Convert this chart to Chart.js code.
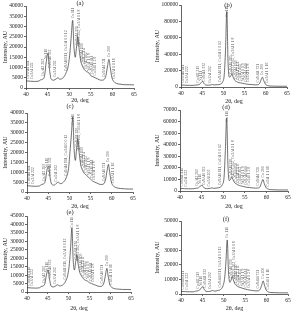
<!DOCTYPE html>
<html>
<head>
<meta charset="utf-8">
<script src="https://cdn.jsdelivr.net/npm/chart.js@4.4.0/dist/chart.umd.min.js"></script>
<style>
html, body { margin: 0; padding: 0; background: #fff; }
body { width: 293px; height: 312px; position: relative; overflow: hidden; }
canvas { position: absolute; }
</style>
</head>
<body>
<script>
// 2theta sample positions, shared by all six patterns
var twoTheta = [40, 41, 42, 43, 43.4, 43.8, 44.3, 44.7, 45.1, 45.4, 45.8, 46.4, 47, 47.4, 47.8, 48.6, 49.3, 49.8, 50.2, 50.5,
	50.8, 51.1, 51.4, 51.7, 52.0, 52.3, 52.7, 53.1, 53.5, 54, 54.5, 55, 55.5, 56, 56.5, 57, 57.5, 58, 58.5, 58.9,
	59.2, 59.5, 59.9, 60.4, 61, 62, 63, 64, 65];

var intensityA = [3500, 3300, 3200, 3400, 4000, 4200, 6000, 13000, 17000, 10000, 4500, 3800, 4500, 5000, 4300, 5000, 7500, 11000, 18000, 26000,
	33000, 20000, 15000, 20000, 25000, 19000, 13000, 10500, 9000, 8000, 7500, 6000, 5500, 5000, 4500, 4000, 3800, 4000, 6000, 11000,
	14000, 10000, 5000, 3000, 2200, 1800, 1600, 1600, 1500];
var intensityB = [2500, 2200, 2000, 2000, 2300, 2500, 3000, 5000, 7000, 4500, 2500, 2200, 2500, 3000, 2500, 2800, 3500, 6000, 15000, 45000,
	92000, 30000, 12000, 13000, 16000, 12000, 8000, 6500, 5500, 5000, 4500, 4000, 3500, 3200, 3000, 2800, 2600, 2700, 4000, 9000,
	12000, 8000, 3500, 1800, 1200, 1000, 900, 900, 900];
var intensityC = [3200, 3000, 2900, 3100, 3800, 4000, 5500, 11000, 13000, 8000, 4000, 3500, 4500, 5000, 4200, 5000, 7500, 12000, 22000, 30000,
	38000, 22000, 16000, 22000, 27000, 20000, 13500, 11000, 9500, 8500, 7500, 6500, 5500, 5000, 4500, 4000, 3800, 4000, 6000, 11000,
	14000, 10000, 5000, 3000, 2200, 1800, 1600, 1500, 1500];
var intensityD = [2200, 2000, 1900, 1900, 2200, 2400, 2800, 4200, 5000, 3500, 2200, 2000, 2300, 2700, 2300, 2600, 3300, 5500, 12000, 35000,
	63000, 22000, 9000, 10000, 12000, 9500, 7000, 6000, 5000, 4500, 4000, 3600, 3200, 3000, 2800, 2600, 2500, 2600, 3500, 7500,
	10000, 6500, 3000, 1700, 1200, 1000, 900, 900, 900];
var intensityE = [2600, 2400, 2300, 2500, 3200, 3500, 5000, 10500, 13000, 8000, 3500, 3000, 3800, 4300, 3600, 4200, 6500, 10000, 17000, 27000,
	38000, 19000, 13000, 18000, 22000, 16500, 11500, 9500, 8000, 7000, 6500, 5500, 5000, 4500, 4000, 3500, 3300, 3500, 5500, 10500,
	14000, 9500, 4500, 2700, 2000, 1700, 1500, 1500, 1400];
var intensityF = [1800, 1600, 1500, 1500, 1900, 2100, 2600, 4000, 5000, 3300, 1900, 1700, 2000, 2400, 2000, 2400, 3200, 5500, 11000, 22000,
	37000, 15000, 8000, 9500, 12000, 9000, 6500, 5500, 4800, 4300, 3800, 3400, 3000, 2700, 2500, 2300, 2100, 2200, 3200, 6500,
	9000, 6000, 2700, 1400, 1000, 900, 800, 800, 800];

var xTicks = [40, 45, 50, 55, 60, 65];
var yMaxes = [40000, 100000, 40000, 70000, 45000, 50000];
var ySteps = [5000, 20000, 5000, 10000, 5000, 10000];
var panelTags = ['(a)', '(b)', '(c)', '(d)', '(e)', '(f)'];

// phase reflections marked on the patterns
var labelTheta = [40.4, 41.3, 44.0, 44.7, 45.5, 46.8, 49.2, 50.8, 51.7, 52.3, 52.9, 53.4, 53.9, 54.6, 55.3, 55.9, 58.1, 59.2, 60.3];
var labelText = ['Cu9Al4 411', 'Cu3Al 222', 'CuAl2 213', 'Ni 111', 'Cu9Al4 332', 'Cu3Al 202', 'Cu9Al4 611, Cu3Al 0 0 12', 'Cu 111',
	'Cu9Al4 330', 'Al2O3 202, Cu3Al 1 1 8', 'Cu9Al4 600', 'Cu3Al 2 1 4', 'CuAl2 402', 'Ni3Al 1 1 9', 'Cu9Al4 444', 'Cu3Al 1 2 8',
	'Cu9Al4 721', 'Cu 200', 'Cu3Al 1 1 16'];

var ink = '#222';
var labelInk = '#555';
var fontFam = '"Liberation Serif", "DejaVu Serif", serif';

var panels = [
	{ data: intensityA, left: 0, top: 0, w: 145, h: 104, yW: 26, padTop: 6, xH: 16, padRight: 11, yTitlePad: 1.4, tagX: 80, tagY: 3 },
	{ data: intensityB, left: 145, top: 0, w: 148, h: 105, yW: 36, padTop: 5, xH: 18, padRight: 6, yTitlePad: 8.4, tagX: 83, tagY: 5 },
	{ data: intensityC, left: 0, top: 103, w: 145, h: 107, yW: 27, padTop: 10, xH: 18, padRight: 12, yTitlePad: 1.4, tagX: 70, tagY: 3 },
	{ data: intensityD, left: 145, top: 103, w: 148, h: 107, yW: 35, padTop: 7, xH: 19, padRight: 5, yTitlePad: 8.4, tagX: 81, tagY: 4 },
	{ data: intensityE, left: 0, top: 206, w: 145, h: 106, yW: 27, padTop: 10, xH: 20, padRight: 14, yTitlePad: 1.4, tagX: 70, tagY: 6 },
	{ data: intensityF, left: 145, top: 206, w: 148, h: 106, yW: 36, padTop: 15, xH: 18, padRight: 5, yTitlePad: 8.4, tagX: 81, tagY: 13 }
];

function curveAt(pts, t) {
	for (var i = 1; i < pts.length; i++) {
		if (t <= pts[i].x) {
			var a = pts[i - 1], b = pts[i];
			return a.y + (b.y - a.y) * (t - a.x) / (b.x - a.x);
		}
	}
	return pts[pts.length - 1].y;
}

var peakLabels = {
	id: 'peakLabels',
	afterDatasetsDraw: function(chart, args, opts) {
		var ctx = chart.ctx, xs = chart.scales.x, ys = chart.scales.y;
		var pts = chart.data.datasets[0].data;
		ctx.save();
		ctx.fillStyle = labelInk;
		ctx.font = '3.8px ' + fontFam;
		ctx.textAlign = 'left';
		ctx.textBaseline = 'middle';
		for (var i = 0; i < labelTheta.length; i++) {
			var px = xs.getPixelForValue(labelTheta[i]);
			var py = ys.getPixelForValue(curveAt(pts, labelTheta[i])) - 2;
			var len = ctx.measureText(labelText[i]).width;
			if (py - len < chart.chartArea.top + 1) py = chart.chartArea.top + 1 + len;
			ctx.save();
			ctx.translate(px, py);
			ctx.rotate(-Math.PI / 2);
			ctx.fillText(labelText[i], 0, 0);
			ctx.restore();
		}
		// panel tag
		ctx.fillStyle = ink;
		ctx.font = '6.5px ' + fontFam;
		ctx.textAlign = 'center';
		ctx.fillText(opts.tag, opts.tagX, opts.tagY);
		ctx.restore();
	}
};

panels.forEach(function(p, k) {
	var cv = document.createElement('canvas');
	cv.width = p.w;
	cv.height = p.h;
	cv.style.left = p.left + 'px';
	cv.style.top = p.top + 'px';
	document.body.appendChild(cv);

	var pts = [];
	for (var i in twoTheta) pts.push({ x: twoTheta[i], y: p.data[i] });

	var tickFont = { family: fontFam, size: 5.5 };
	var titleFont = { family: fontFam, size: 6 };

	new Chart(cv, {
		type: 'line',
		data: {
			datasets: [{
				data: pts,
				borderColor: '#333',
				borderWidth: 0.7,
				pointRadius: 0,
				fill: false,
				cubicInterpolationMode: 'monotone'
			}]
		},
		options: {
			responsive: false,
			animation: false,
			devicePixelRatio: 1,
			layout: { padding: { left: 0, top: p.padTop, right: p.padRight, bottom: 0 } },
			plugins: {
				legend: { display: false },
				tooltip: { enabled: false },
				peakLabels: { tag: panelTags[k], tagX: p.tagX, tagY: p.tagY }
			},
			scales: {
				x: {
					type: 'linear', min: 40, max: 65,
					afterBuildTicks: function(s) { s.ticks = xTicks.map(function(v) { return { value: v }; }); },
					afterFit: function(s) { s.height = p.xH; },
					ticks: { font: tickFont, color: ink, padding: 1, maxRotation: 0, autoSkip: false },
					grid: { drawOnChartArea: false, tickLength: 2, color: ink, lineWidth: 0.7 },
					border: { color: ink, width: 0.7 },
					title: { display: true, text: '2θ, deg', font: titleFont, color: ink, padding: { top: 0, bottom: 0 } }
				},
				y: {
					min: 0, max: yMaxes[k],
					afterFit: function(s) { s.width = p.yW; },
					ticks: { stepSize: ySteps[k], autoSkip: false, font: tickFont, color: ink, padding: 1, callback: function(v) { return String(v); } },
					grid: { drawOnChartArea: false, tickLength: 2, color: ink, lineWidth: 0.7 },
					border: { color: ink, width: 0.7 },
					title: { display: true, text: 'Intensity, AU', font: titleFont, color: ink, padding: { top: p.yTitlePad, bottom: 0 } }
				}
			}
		},
		plugins: [peakLabels]
	});
});
</script>
</body>
</html>
